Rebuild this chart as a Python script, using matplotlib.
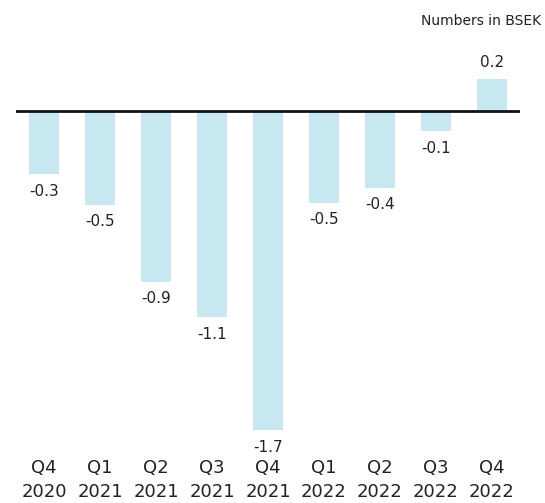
import matplotlib
matplotlib.use("Agg")
import matplotlib.pyplot as plt

categories = ["Q4\n2020", "Q1\n2021", "Q2\n2021", "Q3\n2021", "Q4\n2021",
              "Q1\n2022", "Q2\n2022", "Q3\n2022", "Q4\n2022"]
values = [-0.34, -0.50, -0.91, -1.10, -1.70, -0.49, -0.41, -0.11, 0.17]
note = "Numbers in BSEK"

W, H = 545, 503
fig = plt.figure(figsize=(W / 100, H / 100), dpi=100)
ax = fig.add_axes([16 / W, 1 - 455 / H, (520 - 16) / W, (455 - 60) / H])

x = list(range(len(categories)))
ax.bar(x, values, width=0.55, color="#c7e8f1", zorder=1)
ax.axhline(0, color="#111111", linewidth=2, zorder=2)

for xi, v in zip(x, values):
    if v < 0:
        ax.annotate(f"{v:.1f}", (xi, v), xytext=(0, -7), textcoords="offset points",
                    ha="center", va="top", fontsize=11, color="#222222")
    else:
        ax.annotate(f"{v:.1f}", (xi, v), xytext=(0, 6), textcoords="offset points",
                    ha="center", va="bottom", fontsize=11, color="#222222")

ax.set_xlim(-0.5, len(categories) - 0.5)
ax.set_ylim(-1.832, 0.269)
ax.set_xticks(x)
ax.set_xticklabels(categories, fontsize=13, color="#222222", linespacing=1.45)
ax.tick_params(axis="x", length=0, pad=3)
ax.set_yticks([])
for s in ax.spines.values():
    s.set_visible(False)

fig.text(541 / W, 1 - 25 / H, note, ha="right", va="baseline", fontsize=10, color="#222222")

fig.savefig("out.png", dpi=100)
